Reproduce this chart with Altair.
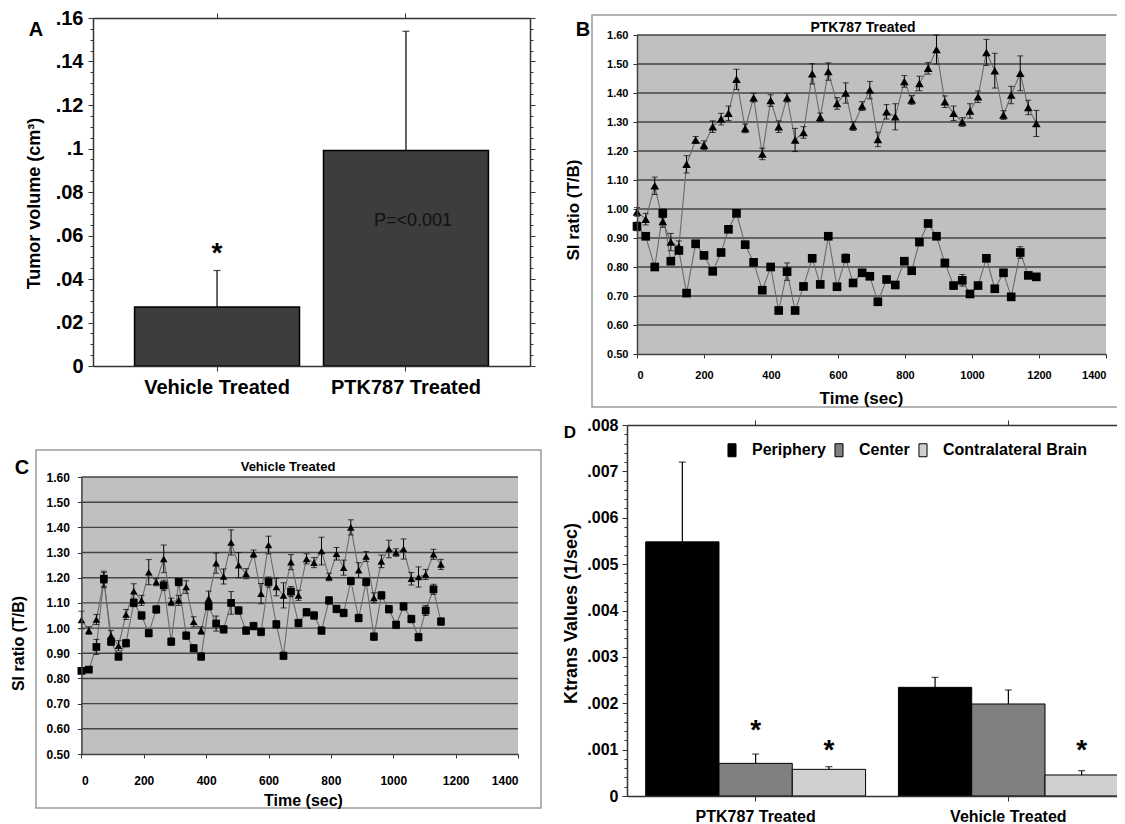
import altair as alt
import pandas as pd

FONT = "Liberation Sans"
W = 1109
H = 816

# ---------------- Panel A data ----------------
a_groups = ["Vehicle Treated", "PTK787 Treated"]
a_values = [0.0271, 0.0991]
a_errors = [0.0168, 0.0548]
a_yticks = [0, 0.02, 0.04, 0.06, 0.08, 0.10, 0.12, 0.14, 0.16]
a_minor = [0.005, 0.01, 0.015, 0.025, 0.03, 0.035, 0.045, 0.05, 0.055, 0.065, 0.07, 0.075,
           0.085, 0.09, 0.095, 0.105, 0.11, 0.115, 0.125, 0.13, 0.135, 0.145, 0.15, 0.155]
a_star_group = ["Vehicle Treated"]
a_star_y = [0.0553]
a_p_group = ["PTK787 Treated"]
a_p_y = [0.0667]
a_p_text = ["P=<0.001"]

# ---------------- Panel B data (PTK787 Treated) ----------------
b_time = [0, 26, 53, 77, 101, 125, 148, 175, 200, 226, 251, 273, 297, 323, 348, 374, 399, 423, 448, 472,
          497, 523, 547, 571, 597, 623, 645, 672, 695, 719, 745, 771, 798, 820, 843, 869, 894, 919, 945, 971,
          994, 1018, 1043, 1068, 1094, 1117, 1144, 1168, 1192]
b_tri = [0.99, 0.965, 1.08, 0.957, 0.886, 0.87, 1.154, 1.238, 1.22, 1.284, 1.31, 1.33, 1.447, 1.278, 1.384,
         1.19, 1.374, 1.284, 1.384, 1.238, 1.264, 1.466, 1.316, 1.474, 1.364, 1.40, 1.286, 1.355, 1.41, 1.24,
         1.335, 1.318, 1.44, 1.376, 1.433, 1.485, 1.55, 1.37, 1.33, 1.30, 1.338, 1.387, 1.54, 1.477, 1.324,
         1.393, 1.468, 1.35, 1.295]
b_tri_err = [0.015, 0.02, 0.03, 0.02, 0.03, 0.02, 0.03, 0.012, 0.015, 0.02, 0.02, 0.025, 0.035, 0.015, 0.015,
             0.02, 0.02, 0.02, 0.015, 0.04, 0.02, 0.035, 0.015, 0.03, 0.02, 0.035, 0.015, 0.015, 0.03, 0.025,
             0.025, 0.045, 0.02, 0.015, 0.025, 0.02, 0.05, 0.02, 0.025, 0.015, 0.025, 0.02, 0.045, 0.06, 0.015,
             0.03, 0.06, 0.025, 0.045]
b_sq = [0.94, 0.906, 0.80, 0.985, 0.82, 0.857, 0.71, 0.88, 0.84, 0.785, 0.85, 0.93, 0.985, 0.877, 0.816,
        0.72, 0.80, 0.65, 0.784, 0.65, 0.733, 0.83, 0.74, 0.906, 0.732, 0.83, 0.745, 0.78, 0.768, 0.68,
        0.757, 0.738, 0.82, 0.787, 0.886, 0.95, 0.906, 0.814, 0.736, 0.754, 0.707, 0.736, 0.83, 0.725, 0.78,
        0.697, 0.85, 0.771, 0.766]
b_sq_err = [0.015, 0.01, 0.01, 0.015, 0.01, 0.01, 0.01, 0.01, 0.01, 0.01, 0.01, 0.01, 0.01, 0.01, 0.01,
            0.01, 0.01, 0.01, 0.03, 0.01, 0.01, 0.01, 0.01, 0.01, 0.01, 0.015, 0.01, 0.01, 0.01, 0.01,
            0.01, 0.01, 0.01, 0.01, 0.01, 0.01, 0.01, 0.01, 0.01, 0.02, 0.01, 0.01, 0.01, 0.01, 0.01,
            0.01, 0.02, 0.01, 0.01]

# ---------------- Panel C data (Vehicle Treated) ----------------
c_time = [0, 24, 48, 72, 95, 119, 143, 168, 193, 216, 240, 264, 288, 312, 336, 360, 384, 408, 432, 456,
          480, 504, 528, 552, 576, 600, 625, 648, 672, 696, 722, 746, 770, 794, 818, 841, 864, 889, 913, 938,
          962, 986, 1009, 1033, 1058, 1081, 1104, 1129, 1153]
c_tri = [1.032, 0.99, 1.034, 1.19, 0.97, 0.93, 1.054, 1.146, 1.11, 1.222, 1.183, 1.275, 1.104, 1.11, 1.163,
         1.025, 0.99, 1.117, 1.258, 1.205, 1.34, 1.25, 1.216, 1.295, 1.137, 1.33, 1.163, 1.13, 1.262, 1.13,
         1.275, 1.26, 1.306, 1.203, 1.295, 1.24, 1.40, 1.23, 1.284, 1.12, 1.265, 1.314, 1.30, 1.314, 1.196,
         1.203, 1.213, 1.293, 1.253]
c_tri_err = [0.035, 0.015, 0.02, 0.03, 0.02, 0.02, 0.02, 0.03, 0.02, 0.05, 0.015, 0.055, 0.015, 0.02, 0.025,
             0.02, 0.015, 0.03, 0.04, 0.03, 0.05, 0.05, 0.02, 0.015, 0.04, 0.035, 0.035, 0.05, 0.03, 0.02,
             0.02, 0.02, 0.055, 0.015, 0.025, 0.03, 0.03, 0.03, 0.02, 0.02, 0.025, 0.035, 0.015, 0.04, 0.025,
             0.04, 0.02, 0.02, 0.02]
c_sq = [0.83, 0.835, 0.925, 1.196, 0.946, 0.887, 0.94, 1.10, 1.05, 0.98, 1.074, 1.17, 0.946, 1.183, 0.97,
        0.92, 0.887, 1.087, 1.018, 0.995, 1.10, 1.07, 0.99, 1.008, 0.985, 1.183, 1.015, 0.89, 1.145, 1.02,
        1.063, 1.05, 0.99, 1.11, 1.076, 1.06, 1.187, 1.04, 1.183, 0.966, 1.13, 1.075, 1.013, 1.086, 1.036,
        0.964, 1.07, 1.154, 1.026]
c_sq_err = [0.01, 0.01, 0.03, 0.03, 0.015, 0.015, 0.015, 0.015, 0.015, 0.015, 0.015, 0.02, 0.015, 0.015, 0.015,
            0.015, 0.015, 0.015, 0.03, 0.015, 0.045, 0.015, 0.015, 0.015, 0.015, 0.02, 0.015, 0.015, 0.02, 0.015,
            0.015, 0.015, 0.015, 0.015, 0.015, 0.015, 0.015, 0.015, 0.015, 0.015, 0.015, 0.015, 0.015, 0.015,
            0.015, 0.015, 0.02, 0.02, 0.015]

si_xdomain = [0, 1400]
si_ydomain = [0.5, 1.6]
si_xticks = [0, 200, 400, 600, 800, 1000, 1200, 1400]
si_yticks = [0.5, 0.6, 0.7, 0.8, 0.9, 1.0, 1.1, 1.2, 1.3, 1.4, 1.5, 1.6]
si_grid = [0.6, 0.7, 0.8, 0.9, 1.0, 1.1, 1.2, 1.3, 1.4, 1.5, 1.6]

# ---------------- Panel D data ----------------
d_groups = ["PTK787 Treated", "Vehicle Treated"]
d_series = ["Periphery", "Center", "Contralateral Brain"]
d_colors = ["#000000", "#808080", "#d0d0d0"]
d_values_ptk = [0.00548, 0.000704, 0.000575]
d_errors_ptk = [0.00172, 0.000201, 0.000057]
d_values_veh = [0.002343, 0.001984, 0.000453]
d_errors_veh = [0.000215, 0.000302, 0.000093]
d_yticks = [0, 0.001, 0.002, 0.003, 0.004, 0.005, 0.006, 0.007, 0.008]
d_minor = [0.0002, 0.0004, 0.0006, 0.0008, 0.0012, 0.0014, 0.0016, 0.0018, 0.0022, 0.0024, 0.0026, 0.0028,
           0.0032, 0.0034, 0.0036, 0.0038, 0.0042, 0.0044, 0.0046, 0.0048, 0.0052, 0.0054, 0.0056, 0.0058,
           0.0062, 0.0064, 0.0066, 0.0068, 0.0072, 0.0074, 0.0076, 0.0078]
d_star_group = ["PTK787 Treated", "PTK787 Treated", "Vehicle Treated"]
d_star_series = ["Center", "Contralateral Brain", "Contralateral Brain"]
d_star_y = [0.00157, 0.00114, 0.00114]

one = pd.DataFrame({"k": [0]})


def ax(**kw):
    base = dict(labelFont=FONT, titleFont=FONT, labelColor="black", titleColor="black", grid=False,
                domainColor="#333333", tickColor="#333333", labelFontWeight="bold", titleFontWeight="bold",
                zindex=2)
    base.update(kw)
    return alt.Axis(**base)


def label_text(txt, x, y, size, weight="bold"):
    return alt.Chart(one).mark_text(text=txt, font=FONT, fontSize=size, fontWeight=weight, color="black",
                                    align="center", baseline="middle").encode(
        x=alt.value(x), y=alt.value(y))


# ================= Panel A =================
dfA = pd.DataFrame({"g": a_groups, "v": a_values, "e": a_errors})
dfA["top"] = dfA["v"] + dfA["e"]
sxA = alt.Scale(domain=a_groups, range=[85, 522], paddingInner=0.127, paddingOuter=0.22)
syA = alt.Scale(domain=[0, 0.16], range=[358, 10], nice=False, zero=False)
labA = "datum.value == 0 ? '0' : replace(format(datum.value, '.2~f'), '0.', '.')"

barsA = alt.Chart(dfA).mark_bar(color="#3d3d3d", stroke="black", strokeWidth=1.5).encode(
    x=alt.X("g:N", scale=sxA, sort=a_groups,
            axis=ax(orient="bottom", offset=358 - H, labelFontSize=20, labelPadding=6, tickSize=5, labelAngle=0,
                    title=None, domainWidth=1.5)),
    y=alt.Y("v:Q", scale=syA,
            axis=ax(orient="left", offset=-85, values=a_yticks, labelExpr=labA, labelFontSize=20,
                    labelPadding=5, tickSize=5, domainWidth=1.5, title="Tumor volume (cm³)", titleFontSize=18,
                    titleX=-59, titleY=195, titleBaseline="middle", titleAlign="center", titleAngle=270)),
)
errA = alt.Chart(dfA).mark_rule(color="black", strokeWidth=1.2).encode(
    x=alt.X("g:N", scale=sxA, axis=None), y=alt.Y("v:Q", scale=syA, axis=None), y2="top")
capA = alt.Chart(dfA).mark_tick(orient="horizontal", size=7, thickness=1.2, color="black").encode(
    x=alt.X("g:N", scale=sxA, axis=None), y=alt.Y("top:Q", scale=syA, axis=None))
starA = alt.Chart(pd.DataFrame({"g": a_star_group, "y": a_star_y})).mark_text(
    text="*", font=FONT, fontSize=28, fontWeight="bold", color="black", baseline="alphabetic", dy=16).encode(
    x=alt.X("g:N", scale=sxA, axis=None), y=alt.Y("y:Q", scale=syA, axis=None))
pA = alt.Chart(pd.DataFrame({"g": a_p_group, "y": a_p_y, "t": a_p_text})).mark_text(
    font=FONT, fontSize=18, color="#111111", baseline="middle", dx=7).encode(
    x=alt.X("g:N", scale=sxA, axis=None), y=alt.Y("y:Q", scale=syA, axis=None), text="t:N")
frameA = alt.Chart(dfA).mark_point(opacity=0).encode(
    x=alt.X("g:N", scale=sxA, axis=ax(orient="top", offset=-10, labels=False, tickSize=5, title=None,
                                     domainWidth=1.5)),
    y=alt.Y("v:Q", scale=syA, axis=ax(orient="right", offset=522 - W, values=a_yticks, labels=False,
                                     tickSize=5, title=None, domainWidth=1.5)))
minorAL = alt.Chart(dfA).mark_point(opacity=0).encode(
    x=alt.X("g:N", scale=sxA, axis=None),
    y=alt.Y("v:Q", scale=syA, axis=ax(orient="left", offset=-85, values=a_minor, labels=False, tickSize=3,
                                     domain=False, title=None)))
minorAR = alt.Chart(dfA).mark_point(opacity=0).encode(
    x=alt.X("g:N", scale=sxA, axis=None),
    y=alt.Y("v:Q", scale=syA, axis=ax(orient="right", offset=522 - W, values=a_minor, labels=False,
                                     tickSize=3, domain=False, title=None)))
panelA = alt.layer(barsA, errA, capA, starA, pA, frameA, minorAL, minorAR,
                   label_text("A", 28, 22, 20)).resolve_axis(x="independent", y="independent")


# ================= Panels B and C =================
def si_panel(t, tri, te, sq, se, xr, yr, frame, title, title_xy, title_fs, lab, lab_xy,
             tick_fs, ax_title_fs, y_title_xy, x_title_xy, left_pad, bottom_pad, tri_size, sq_size):
    df = pd.DataFrame({"t": t, "tri": tri, "sq": sq})
    df["tlo"] = df["tri"] - pd.Series(te)
    df["thi"] = df["tri"] + pd.Series(te)
    df["slo"] = df["sq"] - pd.Series(se)
    df["shi"] = df["sq"] + pd.Series(se)
    sx = alt.Scale(domain=si_xdomain, range=xr, nice=False, zero=False)
    sy = alt.Scale(domain=si_ydomain, range=yr, nice=False, zero=False)

    def X(f):
        return alt.X(f, scale=sx, axis=None)

    def Y(f):
        return alt.Y(f, scale=sy, axis=None)

    fr = alt.Chart(one).mark_rect(fill="white", stroke="#9a9a9a", strokeWidth=1.5).encode(
        x=alt.value(frame[0]), x2=alt.value(frame[2]), y=alt.value(frame[1]), y2=alt.value(frame[3]))
    bg = alt.Chart(pd.DataFrame({"x0": [si_xdomain[0]], "x1": [si_xdomain[1]],
                                 "y0": [si_ydomain[0]], "y1": [si_ydomain[1]]})).mark_rect(
        color="#c0c0c0").encode(x=X("x0:Q"), x2="x1", y=Y("y0:Q"), y2="y1")
    gdf = pd.DataFrame({"v": si_grid})
    gdf["x0"] = si_xdomain[0]
    gdf["x1"] = si_xdomain[1]
    grid = alt.Chart(gdf).mark_rule(color="#454545", strokeWidth=1.4).encode(
        x=X("x0:Q"), x2="x1", y=Y("v:Q"))
    base = alt.Chart(df)
    l1 = base.mark_line(color="#6a6a6a", strokeWidth=1.1).encode(x=X("t:Q"), y=Y("tri:Q"))
    l2 = base.mark_line(color="#6a6a6a", strokeWidth=1.1).encode(x=X("t:Q"), y=Y("sq:Q"))
    e1 = base.mark_rule(color="black", strokeWidth=1).encode(x=X("t:Q"), y=Y("tlo:Q"), y2="thi")
    e2 = base.mark_rule(color="black", strokeWidth=1).encode(x=X("t:Q"), y=Y("slo:Q"), y2="shi")
    caps = []
    for f in ["tlo", "thi", "slo", "shi"]:
        caps.append(base.mark_tick(orient="horizontal", size=6, thickness=1, color="black").encode(
            x=X("t:Q"), y=Y(f + ":Q")))
    p1 = base.mark_point(shape="triangle-up", filled=True, color="black", opacity=1, size=tri_size).encode(
        x=X("t:Q"), y=Y("tri:Q"))
    p2 = base.mark_square(color="black", opacity=1, size=sq_size).encode(
        x=alt.X("t:Q", scale=sx,
                axis=ax(orient="bottom", offset=yr[0] - H, values=si_xticks, format="d", labelFontSize=tick_fs,
                        tickSize=4, labelPadding=bottom_pad, domainWidth=1.5, domainColor="#404040",
                        title="Time (sec)", titleFontSize=ax_title_fs, titleX=x_title_xy[0],
                        titleY=x_title_xy[1], titleBaseline="middle", titleAlign="center")),
        y=alt.Y("sq:Q", scale=sy,
                axis=ax(orient="left", offset=-xr[0], values=si_yticks, format=".2f", labelFontSize=tick_fs,
                        tickSize=4, labelPadding=left_pad, domainWidth=1.5, domainColor="#404040",
                        title="SI ratio (T/B)", titleFontSize=ax_title_fs, titleX=y_title_xy[0],
                        titleY=y_title_xy[1], titleBaseline="middle", titleAlign="center", titleAngle=270)),
    )
    layers = [fr, bg, grid, l1, l2, e1, e2] + caps + [p1, p2,
                                                      label_text(title, title_xy[0], title_xy[1], title_fs),
                                                      label_text(lab, lab_xy[0], lab_xy[1], 20)]
    return alt.layer(*layers).resolve_axis(x="independent", y="independent")


panelB = si_panel(b_time, b_tri, b_tri_err, b_sq, b_sq_err, xr=[629, 1098], yr=[346, 27],
                  frame=[584, 7, 1115, 399], title="PTK787 Treated", title_xy=[855, 19.5], title_fs=14,
                  lab="B", lab_xy=[575, 22], tick_fs=11, ax_title_fs=17, y_title_xy=[-64, 201.5],
                  x_title_xy=[853, 44], left_pad=5, bottom_pad=11, tri_size=75, sq_size=75)
panelC = si_panel(c_time, c_tri, c_tri_err, c_sq, c_sq_err, xr=[73.4, 510], yr=[746, 469],
                  frame=[28, 442, 533, 800], title="Vehicle Treated", title_xy=[280, 458.7], title_fs=13,
                  lab="C", lab_xy=[14, 460], tick_fs=12, ax_title_fs=16, y_title_xy=[-62.6, 635],
                  x_title_xy=[295, 46], left_pad=8, bottom_pad=17, tri_size=58, sq_size=60)

# ================= Panel D =================
rows = []
for g, vals, errs in [(d_groups[0], d_values_ptk, d_errors_ptk), (d_groups[1], d_values_veh, d_errors_veh)]:
    for s, v, e in zip(d_series, vals, errs):
        rows.append({"g": g, "s": s, "v": v, "top": v + e})
dfD = pd.DataFrame(rows)
sxD = alt.Scale(domain=d_groups, range=[619, 1129], paddingInner=0.13, paddingOuter=0.074)
syD = alt.Scale(domain=[0, 0.008], range=[788, 417], nice=False, zero=False)
soD = alt.Scale(domain=d_series, paddingInner=0, paddingOuter=0)
labD = "datum.value == 0 ? '0' : replace(format(datum.value, '.3~f'), '0.', '.')"

barsD = alt.Chart(dfD).mark_bar(stroke="black", strokeWidth=1).encode(
    x=alt.X("g:N", scale=sxD, sort=d_groups,
            axis=ax(orient="bottom", offset=788 - H, labelFontSize=16, labelPadding=7, tickSize=5, labelAngle=0,
                    title=None, domainWidth=1.5)),
    xOffset=alt.XOffset("s:N", scale=soD, sort=d_series),
    y=alt.Y("v:Q", scale=syD,
            axis=ax(orient="left", offset=-619, values=d_yticks, labelExpr=labD, labelFontSize=16,
                    labelPadding=4, tickSize=5, domainWidth=1.5, title="Ktrans Values (1/sec)",
                    titleFontSize=18, titleX=-56, titleY=605, titleBaseline="middle", titleAlign="center",
                    titleAngle=270)),
    color=alt.Color("s:N", scale=alt.Scale(domain=d_series, range=d_colors), sort=d_series,
                    legend=alt.Legend(orient="none", legendX=716, legendY=434, direction="horizontal",
                                      title=None, symbolType="M-0.62,-1H0.62V1H-0.62Z", symbolSize=169,
                                      symbolStrokeColor="black", symbolStrokeWidth=1, symbolOpacity=1,
                                      labelFont=FONT, labelFontSize=16, labelFontWeight="bold",
                                      labelColor="black", labelOffset=12, columnPadding=5, padding=0)),
)
errD = alt.Chart(dfD).mark_rule(color="black", strokeWidth=1.2).encode(
    x=alt.X("g:N", scale=sxD, axis=None), xOffset=alt.XOffset("s:N", scale=soD, sort=d_series),
    y=alt.Y("v:Q", scale=syD, axis=None), y2="top")
capD = alt.Chart(dfD).mark_tick(orient="horizontal", size=7, thickness=1.2, color="black").encode(
    x=alt.X("g:N", scale=sxD, axis=None), xOffset=alt.XOffset("s:N", scale=soD, sort=d_series),
    y=alt.Y("top:Q", scale=syD, axis=None))
starD = alt.Chart(pd.DataFrame({"g": d_star_group, "s": d_star_series, "y": d_star_y})).mark_text(
    text="*", font=FONT, fontSize=28, fontWeight="bold", color="black", baseline="alphabetic", dy=16).encode(
    x=alt.X("g:N", scale=sxD, axis=None), xOffset=alt.XOffset("s:N", scale=soD, sort=d_series),
    y=alt.Y("y:Q", scale=syD, axis=None))
frameD = alt.Chart(dfD).mark_point(opacity=0).encode(
    x=alt.X("g:N", scale=sxD, axis=ax(orient="top", offset=-417, labels=False, tickSize=5, title=None,
                                     domainWidth=1.5)),
    y=alt.Y("v:Q", scale=syD, axis=ax(orient="left", offset=-619, values=d_minor, labels=False, tickSize=3,
                                     domain=False, title=None)))
panelD = alt.layer(barsD, errD, capD, starD, frameD,
                   label_text("D", 562, 425, 17)).resolve_axis(x="independent", y="independent")

chart = alt.layer(panelA, panelB, panelC, panelD).resolve_scale(
    x="independent", y="independent").resolve_axis(x="independent", y="independent").properties(
    width=W, height=H, autosize=alt.AutoSizeParams(type="none"), padding=0,
    background="white").configure_view(stroke=None)

chart.save("out.html", embed_options={"renderer": "svg", "actions": False})
